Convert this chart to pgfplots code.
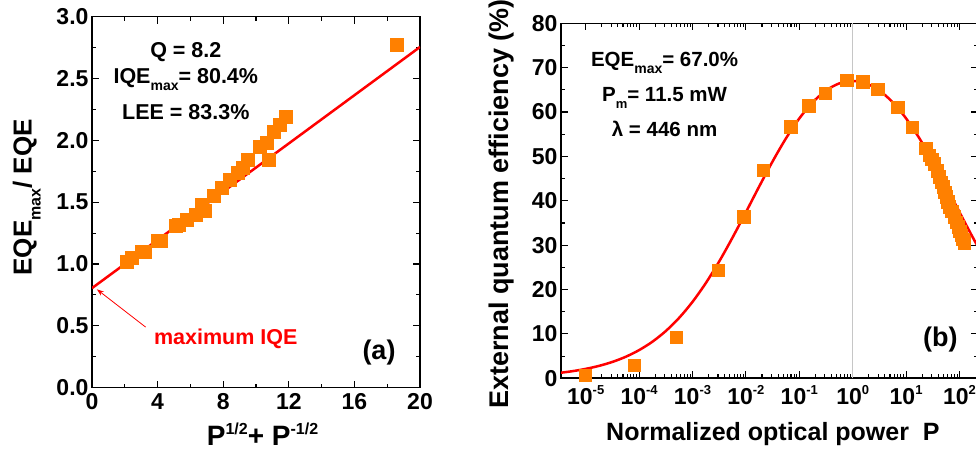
\documentclass[border=0pt]{standalone}
\usepackage{fontspec}
\setmainfont{Liberation Sans}
\usepackage{pgfplots}
\pgfplotsset{compat=1.18}
\usetikzlibrary{arrows.meta}

\definecolor{sqor}{RGB}{255,128,0}
\definecolor{fitred}{RGB}{255,0,0}

% bold text at a given size, raised / lowered small text
\newcommand{\fs}[1]{\fontsize{#1}{#1}\selectfont\bfseries}
\newcommand{\up}[3]{\raisebox{#2}{\fs{#1}#3}}
\newcommand{\dn}[3]{\raisebox{-#2}{\fs{#1}#3}}

\pgfplotsset{
  panel/.style={
    scale only axis,
    axis line style={line width=1.6pt},
    every tick/.append style={black, line width=1.1pt},
    major tick length=7pt, minor tick length=4pt,
    tick align=inside,
    tick label style={font=\fs{23}},
    /pgf/number format/assume math mode=true,
  },
}

\begin{document}
\begin{tikzpicture}
\path[use as bounding box] (0,0) rectangle (976pt,449pt);

% ---------------- (a) ----------------
\begin{axis}[panel,
  at={(92pt,61.3pt)}, anchor=south west,
  width=328pt, height=371pt,
  xmin=0, xmax=20, ymin=0, ymax=3,
  xtick={0,4,...,20}, ytick={0,0.5,...,3},
  minor x tick num=1, minor y tick num=1,
  yticklabel style={/pgf/number format/.cd, fixed, fixed zerofill, precision=1},
  xticklabel style={yshift=-2pt},
  xlabel={P\up{16}{11pt}{1/2}+ P\up{16}{11pt}{-1/2}},
  ylabel={EQE\dn{16}{9pt}{max}/ EQE},
  every axis x label/.style={at={(axis description cs:0.52,-0.1545)}, anchor=base, font=\fs{28}},
  every axis y label/.style={at={(axis description cs:-0.184,0.513)}, anchor=base, rotate=90, font=\fs{26}},
]
\addplot[only marks, mark=square*, mark size=6.5pt, color=sqor] coordinates {
  (2.1,1.02) (2.4,1.05) (3.0,1.10) (3.2,1.10) (4.0,1.19) (4.2,1.19)
  (5.1,1.31) (5.3,1.32) (5.8,1.36) (6.3,1.40) (6.7,1.48) (6.9,1.43)
  (7.4,1.55) (7.9,1.62) (8.4,1.68) (8.9,1.74) (9.2,1.78) (9.5,1.84)
  (10.2,1.95) (10.65,1.98) (10.8,1.84) (11.05,2.07) (11.45,2.13) (11.8,2.19)
  (18.6,2.77)
};
\addplot[fitred, line width=2.5pt] coordinates {(0,0.805) (20,2.755)};
\draw[fitred, line width=0.8pt, -{Stealth[length=7pt,width=5pt]}]
  (axis cs:3.27,0.49) -- (axis cs:0.3,0.795);
\node[anchor=base, text=fitred, font=\fs{21.5}] at (axis cs:8.16,0.353) {maximum IQE};
\node[anchor=base, font=\fs{21.5}] at (axis cs:5.72,2.672) {Q = 8.2};
\node[anchor=base, font=\fs{21.5}] at (axis cs:5.72,2.456) {IQE\dn{14}{7pt}{max}= 80.4\%};
\node[anchor=base, font=\fs{21.5}] at (axis cs:5.72,2.170) {LEE = 83.3\%};
\node[anchor=base, font=\fs{27}] at (axis cs:17.5,0.23) {(a)};
\end{axis}

% ---------------- (b) ----------------
\begin{axis}[panel,
  at={(561pt,70.7pt)}, anchor=south west,
  width=417.2pt, height=355pt,
  xmode=log, xmin=3.45e-6, xmax=223.9, ymin=0, ymax=80,
  xtick={1e-5,1e-4,1e-3,1e-2,1e-1,1,10,100},
  xticklabels={{10\up{13}{10pt}{-5}},{10\up{13}{10pt}{-4}},{10\up{13}{10pt}{-3}},
    {10\up{13}{10pt}{-2}},{10\up{13}{10pt}{-1}},{10\up{13}{10pt}{0}},
    {10\up{13}{10pt}{1}},{10\up{13}{10pt}{2}}},
  xticklabel style={yshift=-4pt},
  ytick={0,10,...,80}, minor y tick num=1,
  xlabel={Normalized optical power~~P},
  ylabel={External quantum efficiency (\%)},
  every axis x label/.style={at={(axis description cs:0.508,-0.174)}, anchor=base, font=\fs{25}},
  every axis y label/.style={at={(axis description cs:-0.127,0.491)}, anchor=base, rotate=90, font=\fs{27}},
]
\addplot[gray!45, line width=0.8pt, forget plot] coordinates {(1,0) (1,80)};
\addplot[only marks, mark=square*, mark size=6.2pt, color=sqor] coordinates {
  (9.8e-6,0.7) (8.1e-5,3.0) (4.9e-4,9.2) (3.0e-3,24.3) (9.1e-3,36.4)
  (2.1e-2,46.9) (6.9e-2,56.7) (0.151,61.4) (0.309,64.2) (0.776,67.2)
  (1.55,66.8) (2.95,65.1) (6.92,61.1) (12.9,56.6)
  (23.4,51.8) (26.9,50.3) (30.2,49.4) (33.9,48.4) (38.0,46.8) (41.7,45.4)
  (45.7,44.2) (49.0,43.2) (52.5,42.0) (56.2,40.9) (60.3,39.8) (64.6,38.7)
  (70.8,37.6) (79.4,36.4) (87.1,35.2) (93.3,34.2) (100,33.2) (107,32.3)
  (115,31.4) (123,30.6)
};
\addplot[fitred, line width=2.5pt, smooth] coordinates {
  (3.162e-6,1.20) (5.623e-6,1.60) (1e-5,2.12) (1.778e-5,2.80) (3.162e-5,3.69)
  (5.623e-5,4.85) (1e-4,6.35) (1.778e-4,8.25) (3.162e-4,10.65) (5.623e-4,13.62)
  (1e-3,17.22) (1.778e-3,21.47) (3.162e-3,26.33) (5.623e-3,31.72) (1e-2,37.43)
  (1.778e-2,43.25) (3.162e-2,48.88) (5.623e-2,54.06) (0.1,58.56) (0.1778,62.19)
  (0.3162,64.85) (0.5623,66.46) (1,67.0) (1.778,66.46) (3.162,64.85)
  (5.623,62.19) (10,58.56) (17.78,54.06) (31.62,48.88) (56.23,43.25)
  (100,37.43) (177.8,31.72) (316.2,26.33)
};
\node[anchor=base, font=\fs{20.5}] at (axis cs:3.0e-4,70.2) {EQE\dn{14}{7pt}{max}= 67.0\%};
\node[anchor=base, font=\fs{20.5}] at (axis cs:3.0e-4,62.3) {P\dn{13}{6.5pt}{m}= 11.5 mW};
\node[anchor=base, font=\fs{20.5}] at (axis cs:3.0e-4,54.4) {λ = 446 nm};
\node[anchor=base, font=\fs{27}] at (axis cs:44,7.1) {(b)};
\end{axis}
\end{tikzpicture}
\end{document}
